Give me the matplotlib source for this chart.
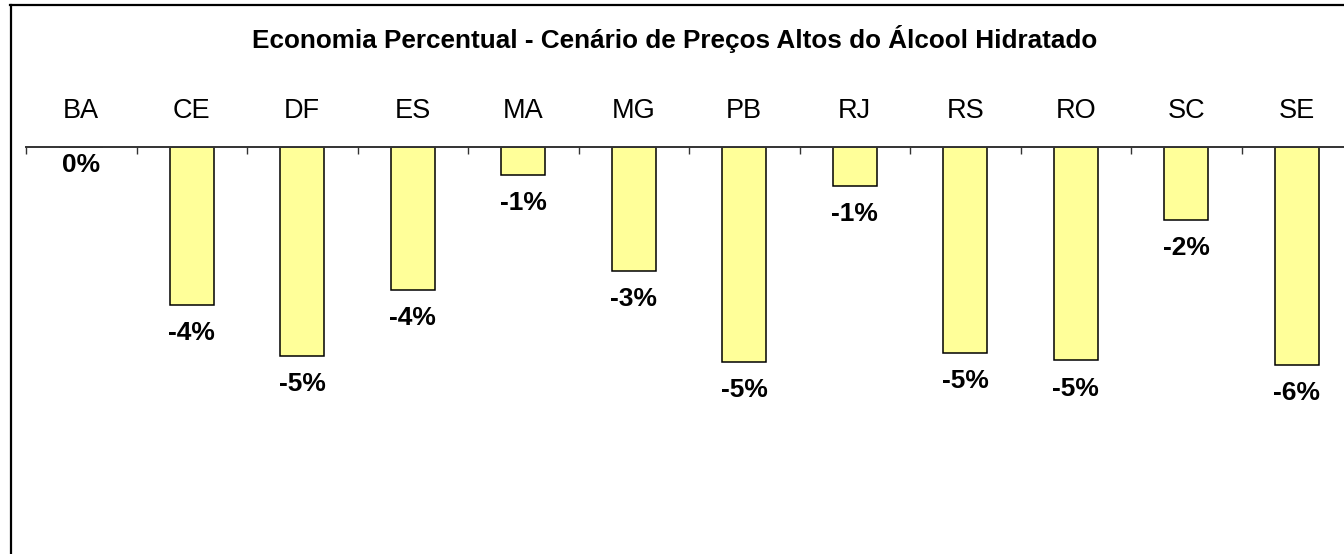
import matplotlib
matplotlib.use("Agg")
import matplotlib.pyplot as plt
from matplotlib.lines import Line2D

plt.rcParams['font.family'] = ['Liberation Sans', 'DejaVu Sans']

# economia percentual por estado (%)
estados = ['BA', 'CE', 'DF', 'ES', 'MA', 'MG', 'PB', 'RJ', 'RS', 'RO', 'SC', 'SE']
economia = [0.0, -4.01, -5.32, -3.64, -0.70, -3.15, -5.46, -0.99, -5.24, -5.43, -1.86, -5.55]
titulo = 'Economia Percentual - Cenário de Preços Altos do Álcool Hidratado'

W, H = 1344, 554
fig = plt.figure(figsize=(W / 100, H / 100), dpi=100)
fig.patch.set_facecolor('white')

# eixo: linha do zero em y=147px, -10% em y=540px
ax = fig.add_axes([26 / W, 1 - 540 / H, 1326 / W, (540 - 147) / H])
x = list(range(len(estados)))
ax.bar(x, economia, width=0.4, color='#FFFF99', edgecolor='black', linewidth=1.1, zorder=2)

ax.set_xlim(-0.5, len(estados) - 0.5)
ax.set_ylim(-10, 0)

for s in ['left', 'right', 'bottom']:
    ax.spines[s].set_visible(False)
ax.spines['top'].set_color('#333333')
ax.spines['top'].set_linewidth(1.4)
ax.spines['top'].set_zorder(3)

ax.xaxis.tick_top()
ax.set_xticks(x)
ax.set_xticklabels(estados, fontsize=19.5)
ax.set_xticks([i - 0.5 for i in range(len(estados) + 1)], minor=True)
ax.tick_params(axis='x', which='major', length=0, pad=16.5)
ax.tick_params(axis='x', which='minor', direction='in', length=5, width=1.0, color='#333333')
ax.set_yticks([])

for xi, v in zip(x, economia):
    dy = -13 if v == 0 else -20.3
    ax.annotate(f'{int(round(v))}%', (xi, v), xytext=(0, dy), textcoords='offset points',
                ha='center', va='center', fontsize=19, fontweight='bold')

fig.text(675 / W, 1 - 48 / H, titulo, ha='center', va='baseline', fontsize=18.8, fontweight='bold')

# moldura do gráfico (cortada à direita e embaixo)
fig.add_artist(Line2D([10.5 / W, 10.5 / W], [0, 1 - 5 / H], color='black', linewidth=1.6))
fig.add_artist(Line2D([10 / W, 1], [1 - 5 / H, 1 - 5 / H], color='black', linewidth=1.6))

fig.savefig('out.png', dpi=100)
